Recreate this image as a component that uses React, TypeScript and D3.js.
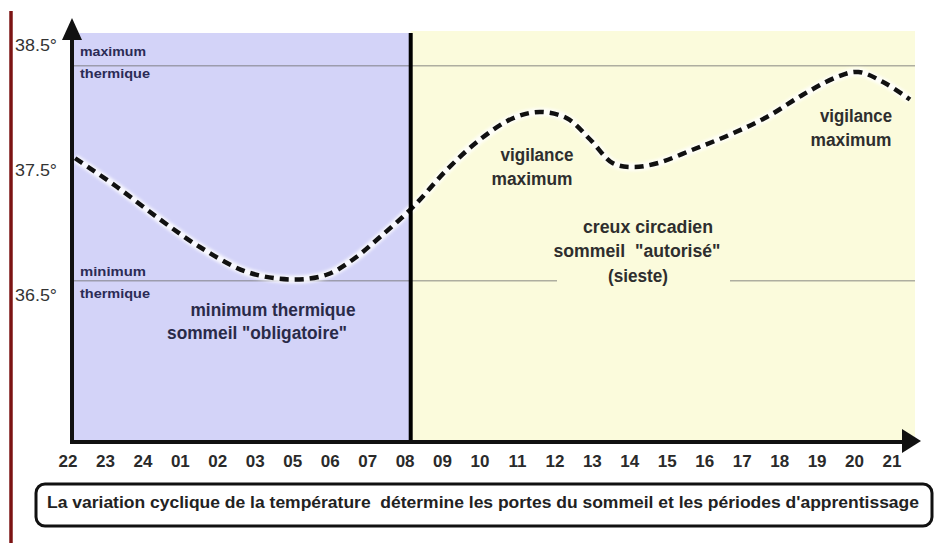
import React from 'react';
import * as d3 from 'd3';

// heures (le 04 manque sur l'original)
const hourLabels = ['22', '23', '24', '01', '02', '03', '05', '06', '07', '08', '09', '10', '11', '12', '13', '14', '15', '16', '17', '18', '19', '20', '21'];
const tempTicks = [36.5, 37.5, 38.5];

// courbe de température : position sur l'axe des heures (index) et valeur en °C
const curveHour = [0.19, 1.31, 2.46, 3.52, 4.78, 6.01, 6.92, 7.61, 8.33, 9.21, 10.12, 11.0, 11.88, 12.6, 13.32, 13.94, 14.55, 15.09, 15.73, 16.69, 17.68, 18.66, 19.63, 20.53, 21.1, 21.76, 22.48];
const curveTemp = [37.61, 37.38, 37.12, 36.9, 36.7, 36.64, 36.68, 36.8, 36.98, 37.22, 37.52, 37.76, 37.93, 37.98, 37.93, 37.76, 37.57, 37.54, 37.57, 37.68, 37.8, 37.94, 38.12, 38.26, 38.3, 38.22, 38.08];

const maxThermique = 38.35;
const minThermique = 36.63;
const nightEnd = 9.15; // limite nuit / jour (08h)

const caption = "La variation cyclique de la température  détermine les portes du sommeil et les périodes d'apprentissage";

const FONT = '"Liberation Sans", Arial, sans-serif';

export default function App() {
  const W = 941;
  const H = 543;
  const left = 74;
  const right = 915;
  const top = 31;
  const bottom = 442;

  const x = d3.scaleLinear().domain([0, hourLabels.length - 1]).range([68, 892]);
  const y = d3.scaleLinear().domain([36.5, 38.5]).range([297, 47]);

  const pts = curveHour.map((h, i) => [x(h), y(curveTemp[i])] as [number, number]);
  const line = d3.line().curve(d3.curveCatmullRom.alpha(0.5));
  const path = line(pts) || '';

  const xDiv = x(nightEnd);

  const bigText = (txt: string, cx: number, cy: number, len: number, fill = '#2e2e2e') => (
    <text x={cx} y={cy} textAnchor="middle" dominantBaseline="middle" fontFamily={FONT} style={{ whiteSpace: 'pre' }}
      fontWeight="bold" fontSize={18} fill={fill} textLength={len} lengthAdjust="spacingAndGlyphs">{txt}</text>
  );
  const smallText = (txt: string, sx: number, cy: number, len: number) => (
    <text x={sx} y={cy} dominantBaseline="middle" fontFamily={FONT} fontWeight="bold" fontSize={13}
      fill="#2b2b55" textLength={len} lengthAdjust="spacingAndGlyphs">{txt}</text>
  );

  return (
    <div style={{ position: 'fixed', left: 0, top: 0 }}>
      <svg width={W} height={H} style={{ display: 'block', background: '#fff' }}>
        <defs>
          <filter id="halo" x="-5%" y="-20%" width="110%" height="140%">
            <feGaussianBlur stdDeviation="1.5" />
          </filter>
        </defs>

        {/* bord rouge */}
        <line x1={11} x2={11} y1={11} y2={H} stroke="#7c1414" strokeWidth={3.5} />

        {/* fonds nuit / jour */}
        <rect x={left} y={top + 2} width={xDiv - left} height={bottom - top - 2} fill="#d3d3f8" />
        <rect x={xDiv} y={top} width={right - xDiv} height={bottom - top} fill="#fbfbdc" />

        {/* lignes max / min thermique */}
        <line x1={left} x2={right} y1={y(maxThermique)} y2={y(maxThermique)} stroke="#6f6f6f" strokeOpacity={0.55} strokeWidth={1.6} />
        <line x1={left} x2={right} y1={y(minThermique)} y2={y(minThermique)} stroke="#6f6f6f" strokeOpacity={0.55} strokeWidth={1.6} />
        <rect x={557} y={205} width={173} height={90} fill="#fbfbdc" />

        {/* courbe */}
        <path d={path} fill="none" stroke="#ffffff" strokeOpacity={0.85} strokeWidth={8} filter="url(#halo)" />
        <path d={path} fill="none" stroke="#111" strokeWidth={4.5} strokeDasharray="9 6" />

        {/* séparation nuit / jour */}
        <line x1={xDiv} x2={xDiv} y1={top + 2} y2={bottom} stroke="#000" strokeWidth={4} />

        {/* axes */}
        <line x1={72} x2={72} y1={36} y2={bottom + 2} stroke="#111" strokeWidth={4} />
        <path d="M72,18 L62,40 L82,40 Z" fill="#111" />
        <line x1={70} x2={904} y1={bottom} y2={bottom} stroke="#111" strokeWidth={4} />
        <path d="M921,441 L902,429 L902,453 Z" fill="#111" />

        {/* graduations */}
        {tempTicks.map(t => (
          <text key={t} x={15} y={y(t)} dominantBaseline="middle" fontFamily={FONT} fontSize={17}
            fill="#333" textLength={42} lengthAdjust="spacingAndGlyphs">{`${t.toFixed(1)}°`}</text>
        ))}
        {hourLabels.map((h, i) => (
          <text key={i} x={x(i)} y={463} textAnchor="middle" dominantBaseline="middle" fontFamily={FONT}
            fontWeight="bold" fontSize={17} fill="#2a2a2a">{h}</text>
        ))}

        {/* annotations */}
        {smallText('maximum', 80, 53, 66)}
        {smallText('thermique', 80, 75, 70)}
        {smallText('minimum', 80, 273, 66)}
        {smallText('thermique', 80, 295, 70)}

        {bigText('minimum thermique', 273, 311, 165, '#2a2a48')}
        {bigText('sommeil "obligatoire"', 257, 334, 180, '#2a2a48')}

        {bigText('vigilance', 537, 156, 73)}
        {bigText('maximum', 532, 180, 81)}

        {bigText('creux circadien', 648, 228, 130)}
        {bigText('sommeil  "autorisé"', 637, 252, 167)}
        {bigText('(sieste)', 638, 277, 60)}

        {bigText('vigilance', 856, 117, 72)}
        {bigText('maximum', 851, 141, 81)}

        {/* légende */}
        <rect x={36} y={484} width={896} height={42} rx={9} fill="#fff" stroke="#111" strokeWidth={3} />
        <text x={483} y={504} textAnchor="middle" dominantBaseline="middle" fontFamily={FONT} fontWeight="bold"
          style={{ whiteSpace: 'pre' }} fontSize={16} fill="#222" textLength={872} lengthAdjust="spacingAndGlyphs">{caption}</text>
      </svg>
    </div>
  );
}
